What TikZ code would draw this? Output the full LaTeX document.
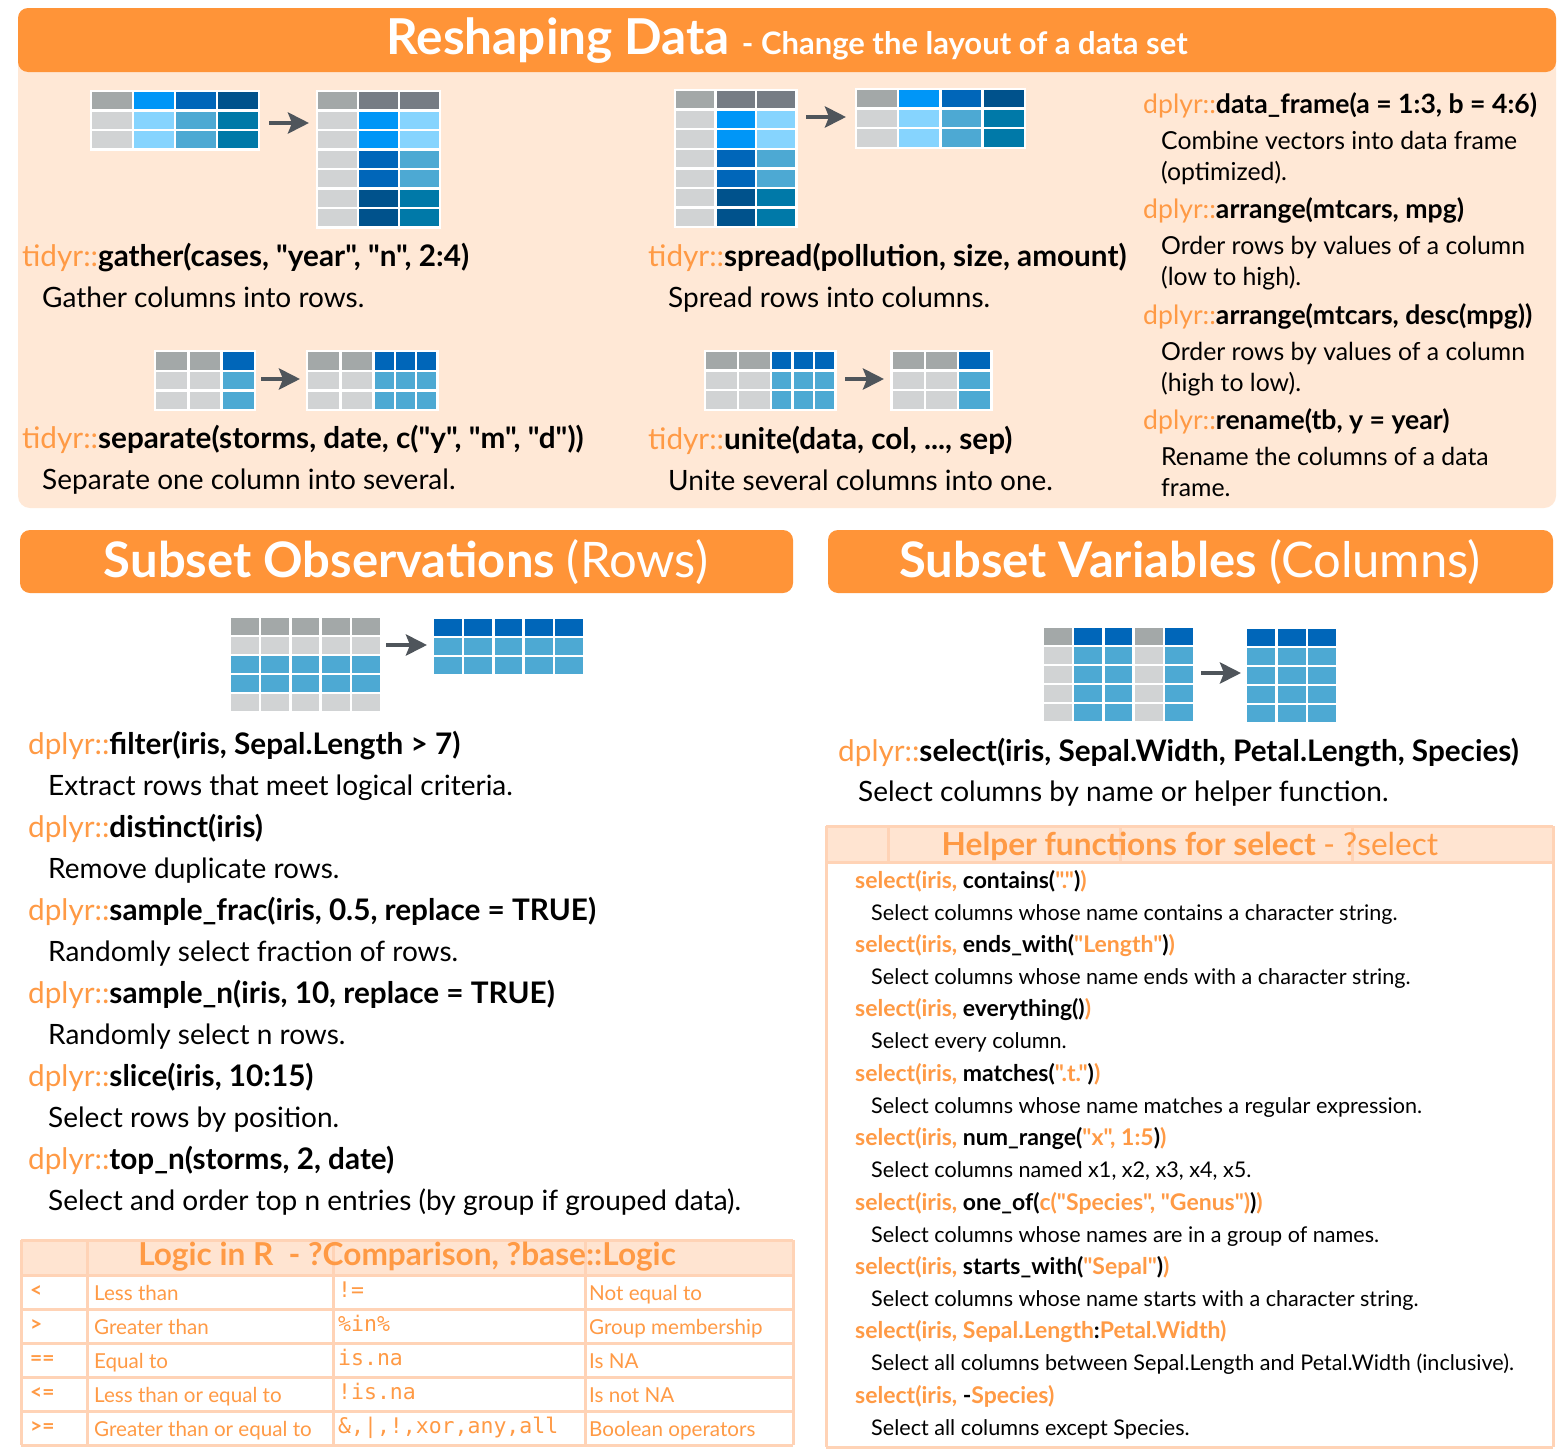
\documentclass[tikz,border=0pt]{standalone}
\usepackage{fontspec}
\setmainfont{Lato}[Ligatures=TeXOff]
\setmonofont{DejaVu Sans Mono}
\usetikzlibrary{positioning,arrows.meta}

\definecolor{barorange}{HTML}{FF9438}
\definecolor{panelpeach}{HTML}{FFE8D6}
\definecolor{codeorange}{HTML}{FF9A45}
\definecolor{gridorange}{HTML}{FFD3B6}
\definecolor{headfill}{HTML}{FFE4D1}
\definecolor{hdrgray}{HTML}{A3A8A8}
\definecolor{slate}{HTML}{767C84}
\definecolor{cellgray}{HTML}{D1D3D4}
\definecolor{brightblue}{HTML}{0096F7}
\definecolor{lightblue}{HTML}{86D4FE}
\definecolor{midblue}{HTML}{0066B9}
\definecolor{steelblue}{HTML}{4DA9D3}
\definecolor{darkblue}{HTML}{00528C}
\definecolor{tealblue}{HTML}{0079A8}
\definecolor{arrowgray}{HTML}{4F555B}

\newcommand{\pkgname}[1]{{\mdseries\color{codeorange}#1}}
\newcommand{\twolines}[2]{\begin{tabular}[t]{@{}l@{}}#1\\#2\end{tabular}}
% x, y, cell width, row pitch, rows of colours
\newcommand{\celltable}[5]{%
  \foreach \cellrow [count=\rowi from 0] in {#5}
    \foreach \clr [count=\colk from 0] in \cellrow
      \filldraw[fill=\clr, draw=white, line width=2.4pt]
        ({#1+\colk*#3},{#2+\rowi*#4}) rectangle ++(#3,#4);}

\tikzset{
  txt/.style={inner sep=0pt, anchor=base west},
  fncode/.style={txt, font=\bfseries\fontsize{29.7}{34}\selectfont},
  fndesc/.style={txt, font=\fontsize{28}{33}\selectfont},
  sidecode/.style={txt, font=\bfseries\fontsize{26.6}{31}\selectfont},
  sidedesc/.style={txt, font=\fontsize{24.8}{31}\selectfont},
  helpcode/.style={txt, font=\bfseries\fontsize{23}{27}\selectfont, text=codeorange},
  helpdesc/.style={txt, font=\fontsize{21.6}{25}\selectfont},
  logiccell/.style={txt, font=\fontsize{20.6}{24}\selectfont, text=codeorange},
  boxtitle/.style={inner sep=0pt, text=codeorange, font=\bfseries\fontsize{31.6}{36}\selectfont},
  sectiontitle/.style={inner sep=0pt, text=white, font=\bfseries\fontsize{49}{54}\selectfont},
  gridline/.style={draw=gridorange, line width=3pt},
  flowarrow/.style={draw=arrowgray, line width=4.5pt,
    -{Stealth[length=21pt, width=21pt, inset=4pt]}},
}

\begin{document}
\begin{tikzpicture}[x=1pt, y=-1pt]
\useasboundingbox[fill=white] (0,0) rectangle (1564,1456);

% reshaping panel
\fill[panelpeach, rounded corners=12pt] (18,8) rectangle (1556,508);
\fill[barorange, rounded corners=10pt] (18,8) rectangle (1556,72);
\node[sectiontitle, font=\bfseries\fontsize{49.5}{54}\selectfont] (reshapetitle) at (787,41)
  {Reshaping Data {\fontsize{31}{36}\selectfont - Change the layout of a data set}};

\celltable{91}{91}{42}{19.5}{{hdrgray,brightblue,midblue,darkblue},{cellgray,lightblue,steelblue,tealblue},{cellgray,lightblue,steelblue,tealblue}}
\celltable{317}{91}{41}{19.5}{{hdrgray,slate,slate},{cellgray,brightblue,lightblue},{cellgray,brightblue,lightblue},{cellgray,midblue,steelblue},{cellgray,midblue,steelblue},{cellgray,darkblue,tealblue},{cellgray,darkblue,tealblue}}
\coordinate (gathertail) at (269,123);
\coordinate (gatherhead) at (309,123);
\draw[flowarrow] (gathertail) -- (gatherhead);

\celltable{675}{90}{40.5}{19.6}{{hdrgray,slate,slate},{cellgray,brightblue,lightblue},{cellgray,brightblue,lightblue},{cellgray,midblue,steelblue},{cellgray,midblue,steelblue},{cellgray,darkblue,tealblue},{cellgray,darkblue,tealblue}}
\celltable{856}{89}{42.2}{19.6}{{hdrgray,brightblue,midblue,darkblue},{cellgray,lightblue,steelblue,tealblue},{cellgray,lightblue,steelblue,tealblue}}
\coordinate (spreadtail) at (806,117);
\coordinate (spreadhead) at (846,117);
\draw[flowarrow] (spreadtail) -- (spreadhead);

\celltable{155}{351}{33.3}{19.7}{{hdrgray,hdrgray,midblue},{cellgray,cellgray,steelblue},{cellgray,cellgray,steelblue}}
\celltable{307}{351}{33.3}{19.7}{{hdrgray,hdrgray},{cellgray,cellgray},{cellgray,cellgray}}
\celltable{373.6}{351}{21.3}{19.7}{{midblue,midblue,midblue},{steelblue,steelblue,steelblue},{steelblue,steelblue,steelblue}}
\coordinate (separatetail) at (261,379);
\coordinate (separatehead) at (300,379);
\draw[flowarrow] (separatetail) -- (separatehead);

\celltable{705}{351}{33}{19.6}{{hdrgray,hdrgray},{cellgray,cellgray},{cellgray,cellgray}}
\celltable{771}{351}{21.5}{19.6}{{midblue,midblue,midblue},{steelblue,steelblue,steelblue},{steelblue,steelblue,steelblue}}
\celltable{891.5}{351}{33.3}{19.6}{{hdrgray,hdrgray,midblue},{cellgray,cellgray,steelblue},{cellgray,cellgray,steelblue}}
\coordinate (unitetail) at (845,379);
\coordinate (unitehead) at (884,379);
\draw[flowarrow] (unitetail) -- (unitehead);

\node[fncode] (gathercode) at (22,266) {\pkgname{tidyr::}gather(cases, "year", "n", 2:4)};
\node[fndesc] (gatherdesc) at ([shift={(20,41)}]gathercode.base west) {Gather columns into rows.};
\node[fncode] (separatecode) at (22,448) {\pkgname{tidyr::}separate(storms, date, c("y", "m", "d"))};
\node[fndesc] (separatedesc) at ([shift={(20,41)}]separatecode.base west) {Separate one column into several.};
\node[fncode] (spreadcode) at (648,266) {\pkgname{tidyr::}spread(pollution, size, amount)};
\node[fndesc] (spreaddesc) at ([shift={(20,41)}]spreadcode.base west) {Spread rows into columns.};
\node[fncode] (unitecode) at (648,449) {\pkgname{tidyr::}unite(data, col, ..., sep)};
\node[fndesc] (unitedesc) at ([shift={(20,41)}]unitecode.base west) {Unite several columns into one.};

\node[sidecode] (framecode) at (1143,113) {\pkgname{dplyr::}data\_frame(a = 1:3, b = 4:6)};
\node[sidedesc] (framedesc) at ([shift={(18,36)}]framecode.base west) {\twolines{Combine vectors into data frame}{(optimized).}};
\node[sidecode] (arrangecode) at (1143,218) {\pkgname{dplyr::}arrange(mtcars, mpg)};
\node[sidedesc] (arrangedesc) at ([shift={(18,36)}]arrangecode.base west) {\twolines{Order rows by values of a column}{(low to high).}};
\node[sidecode] (desccode) at (1143,324) {\pkgname{dplyr::}arrange(mtcars, desc(mpg))};
\node[sidedesc] (descdesc) at ([shift={(18,36)}]desccode.base west) {\twolines{Order rows by values of a column}{(high to low).}};
\node[sidecode] (renamecode) at (1143,429) {\pkgname{dplyr::}rename(tb, y = year)};
\node[sidedesc] (renamedesc) at ([shift={(18,36)}]renamecode.base west) {\twolines{Rename the columns of a data}{frame.}};

% subset observations
\fill[barorange, rounded corners=10pt] (20,530) rectangle (793,593);
\node[sectiontitle] (rowstitle) at (406,562) {Subset Observations {\mdseries(Rows)}};
\celltable{230}{617}{30.2}{19}{{hdrgray,hdrgray,hdrgray,hdrgray,hdrgray},{cellgray,cellgray,cellgray,cellgray,cellgray},{steelblue,steelblue,steelblue,steelblue,steelblue},{steelblue,steelblue,steelblue,steelblue,steelblue},{cellgray,cellgray,cellgray,cellgray,cellgray}}
\celltable{433}{618}{30.2}{19}{{midblue,midblue,midblue,midblue,midblue},{steelblue,steelblue,steelblue,steelblue,steelblue},{steelblue,steelblue,steelblue,steelblue,steelblue}}
\coordinate (rowstail) at (386,645);
\coordinate (rowshead) at (427,645);
\draw[flowarrow] (rowstail) -- (rowshead);

\node[fncode] (filtercode) at (28,754) {\pkgname{dplyr::}filter(iris, Sepal.Length > 7)};
\node[fndesc] (filterdesc) at ([shift={(20,41)}]filtercode.base west) {Extract rows that meet logical criteria.};
\node[fncode] (distinctcode) at (28,837) {\pkgname{dplyr::}distinct(iris)};
\node[fndesc] (distinctdesc) at ([shift={(20,41)}]distinctcode.base west) {Remove duplicate rows.};
\node[fncode] (fraccode) at (28,920) {\pkgname{dplyr::}sample\_frac(iris, 0.5, replace = TRUE)};
\node[fndesc] (fracdesc) at ([shift={(20,41)}]fraccode.base west) {Randomly select fraction of rows.};
\node[fncode] (samplecode) at (28,1003) {\pkgname{dplyr::}sample\_n(iris, 10, replace = TRUE)};
\node[fndesc] (sampledesc) at ([shift={(20,41)}]samplecode.base west) {Randomly select n rows.};
\node[fncode] (slicecode) at (28,1086) {\pkgname{dplyr::}slice(iris, 10:15)};
\node[fndesc] (slicedesc) at ([shift={(20,41)}]slicecode.base west) {Select rows by position.};
\node[fncode] (topcode) at (28,1169) {\pkgname{dplyr::}top\_n(storms, 2, date)};
\node[fndesc] (topdesc) at ([shift={(20,41)}]topcode.base west) {Select and order top n entries (by group if grouped data).};

% logic table
\fill[headfill] (21,1240) rectangle (793,1275);
\foreach \y in {1240,1275,1309,1343,1377,1411,1445}
  \draw[gridline] (21,\y) -- (793,\y);
\foreach \x in {21,87,333,585,793}
  \draw[gridline] (\x,1240) -- (\x,1445);
\node[boxtitle] (logictitle) at (407,1257) {Logic in R\ \ - ?Comparison, ?base::Logic};
\foreach \op/\opname/\fn/\fnname [count=\i from 0] in
  {</Less than/!=/Not equal to,
   >/Greater than/{\%in\%}/Group membership,
   ==/Equal to/is.na/Is NA,
   <=/Less than or equal to/!is.na/Is not NA,
   >=/Greater than or equal to/{\&,|,!,xor,any,all}/Boolean operators}
{
  \node[logiccell, font=\bfseries\fontsize{21}{24}\selectfont] (logicop\i) at (30,1297+\i*34) {\op};
  \node[logiccell] (logicname\i) at (94,1300+\i*34) {\opname};
  \node[logiccell, font=\ttfamily\fontsize{21.5}{25}\selectfont] (logicfn\i) at (338,1297+\i*34) {\fn};
  \node[logiccell] (logicfnname\i) at (589,1300+\i*34) {\fnname};
}

% subset variables
\fill[barorange, rounded corners=10pt] (828,530) rectangle (1553,593);
\node[sectiontitle] (colstitle) at (1190,562) {Subset Variables {\mdseries(Columns)}};
\celltable{1043}{627}{30.2}{19}{{hdrgray,midblue,midblue,hdrgray,midblue},{cellgray,steelblue,steelblue,cellgray,steelblue},{cellgray,steelblue,steelblue,cellgray,steelblue},{cellgray,steelblue,steelblue,cellgray,steelblue},{cellgray,steelblue,steelblue,cellgray,steelblue}}
\celltable{1246}{628}{30.5}{19}{{midblue,midblue,midblue},{steelblue,steelblue,steelblue},{steelblue,steelblue,steelblue},{steelblue,steelblue,steelblue},{steelblue,steelblue,steelblue}}
\coordinate (colstail) at (1201,673);
\coordinate (colshead) at (1241,673);
\draw[flowarrow] (colstail) -- (colshead);

\node[fncode] (selectcode) at (838,761) {\pkgname{dplyr::}select(iris, Sepal.Width, Petal.Length, Species)};
\node[fndesc] (selectdesc) at ([shift={(20,40)}]selectcode.base west) {Select columns by name or helper function.};

% helper functions box
\fill[headfill] (826,826) rectangle (1553,862);
\foreach \y in {826,862,1447}
  \draw[gridline] (826,\y) -- (1553,\y);
\foreach \x in {826,1553}
  \draw[gridline] (\x,826) -- (\x,1447);
\foreach \x in {888,1120,1352}
  \draw[gridline] (\x,826) -- (\x,862);
\node[boxtitle] (helptitle) at (1190,846) {Helper functions for select {\mdseries - ?select}};
\foreach \fncall/\fntext [count=\i from 0] in
  {{select(iris, \textcolor{black}{contains(}"."\textcolor{black}{)})}/{Select columns whose name contains a character string.},
   {select(iris, \textcolor{black}{ends\_with(}"Length"\textcolor{black}{)})}/{Select columns whose name ends with a character string.},
   {select(iris, \textcolor{black}{everything()})}/{Select every column.},
   {select(iris, \textcolor{black}{matches(}".t."\textcolor{black}{)})}/{Select columns whose name matches a regular expression.},
   {select(iris, \textcolor{black}{num\_range(}"x", 1:5\textcolor{black}{)})}/{Select columns named x1, x2, x3, x4, x5.},
   {select(iris, \textcolor{black}{one\_of(}c("Species", "Genus")\textcolor{black}{)})}/{Select columns whose names are in a group of names.},
   {select(iris, \textcolor{black}{starts\_with(}"Sepal"\textcolor{black}{)})}/{Select columns whose name starts with a character string.},
   {select(iris, Sepal.Length\textcolor{black}{:}Petal.Width)}/{Select all columns between Sepal.Length and Petal.Width (inclusive).},
   {select(iris, \textcolor{black}{-}Species)}/{Select all columns except Species.}}
{
  \node[helpcode] (helpcode\i) at (855,888+\i*64.4) {\fncall};
  \node[helpdesc] (helpdesc\i) at ([shift={(16,32)}]helpcode\i.base west) {\fntext};
}
\end{tikzpicture}
\end{document}
